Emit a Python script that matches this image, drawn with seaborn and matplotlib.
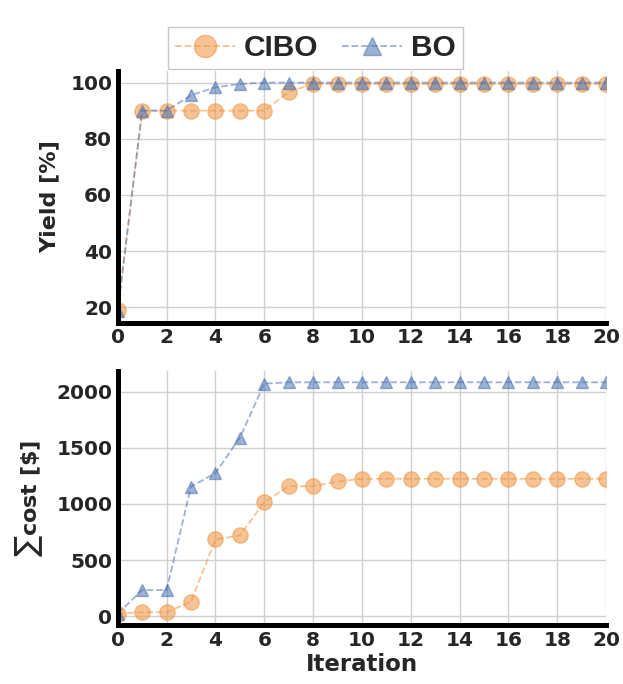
import matplotlib
import matplotlib.pyplot as plt
import numpy as np
import pandas as pd
import seaborn as sns

matplotlib.use('Agg')

iterations = list(range(21))

# Yield [%] per iteration
cibo_yield = [19, 90, 90, 90, 90, 90, 90, 96.7, 99.5, 99.5, 99.5, 99.5, 99.5, 99.5,
              99.5, 99.5, 99.5, 99.5, 99.5, 99.5, 99.5]
bo_yield = [18.5, 90, 90, 95.5, 98.3, 99.5, 100, 100, 100, 100, 100, 100, 100, 100,
            100, 100, 100, 100, 100, 100, 100]

# cumulative cost [$] per iteration
cibo_cost = [24, 36, 36, 131, 684, 720, 1015, 1158, 1158, 1200, 1224, 1224, 1224, 1224,
             1224, 1224, 1224, 1224, 1224, 1224, 1224]
bo_cost = [24, 233, 233, 1155, 1274, 1590, 2071, 2083, 2083, 2083, 2083, 2083, 2083, 2083,
           2083, 2083, 2083, 2083, 2083, 2083, 2083]

methods = ['CIBO', 'BO']
colors = {'CIBO': '#f0933f', 'BO': '#4c72b0'}
markers = {'CIBO': ('o', 11), 'BO': ('^', 9)}


def draw_panel(ax, series, ylabel, yticks):
    for name, values in zip(methods, series):
        df = pd.DataFrame({'Iteration': iterations, 'value': values})
        mk, ms = markers[name]
        sns.lineplot(data=df, x='Iteration', y='value', ax=ax, color=colors[name],
                     linestyle='--', marker=mk, markersize=ms, alpha=0.55,
                     markeredgecolor=colors[name], markeredgewidth=1.0,
                     linewidth=1.3, label=name)
    ax.set_xlim(0, 20)
    ax.set_xticks(range(0, 21, 2))
    ax.set_yticks(yticks)
    ax.set_ylabel(ylabel, fontsize=16, fontweight='bold', labelpad=8)
    ax.grid(True, color='#d0d0d0', linewidth=1.0)
    for side in ['top', 'right']:
        ax.spines[side].set_visible(False)
    for side in ['left', 'bottom']:
        ax.spines[side].set_color('black')
        ax.spines[side].set_linewidth(3.6)
    ax.tick_params(axis='both', labelsize=14.5, length=0, pad=4, colors='#262626')
    for lab in ax.get_xticklabels() + ax.get_yticklabels():
        lab.set_fontweight('bold')
    ax.legend_.remove()


sns.set_style('whitegrid')
plt.rcParams['font.family'] = ['DejaVu Sans']
plt.rcParams['mathtext.fontset'] = 'dejavusans'

fig = plt.figure(figsize=(6.23, 6.84), dpi=100)
ax1 = fig.add_axes([0.189, 0.528, 0.784, 0.368])
ax2 = fig.add_axes([0.189, 0.086, 0.784, 0.372])

draw_panel(ax1, [cibo_yield, bo_yield], 'Yield [%]', [20, 40, 60, 80, 100])
ax1.set_xlabel('')
draw_panel(ax2, [cibo_cost, bo_cost], r'$\sum$cost [\$]', [0, 500, 1000, 1500, 2000])
ax2.set_xlabel('Iteration', fontsize=16.5, fontweight='bold', labelpad=2)

handles, labels = ax1.get_legend_handles_labels()
leg = fig.legend(handles, labels, loc='upper center', bbox_to_anchor=(0.506, 0.983),
                 ncol=2, frameon=True, fancybox=False, edgecolor='#bbbbbb',
                 prop={'family': 'Liberation Sans', 'weight': 'bold', 'size': 21.5},
                 handlelength=2.0, columnspacing=0.8, handletextpad=0.3,
                 borderpad=0.25, markerscale=1.45)

plt.savefig('out.png', dpi=100)
plt.close()
